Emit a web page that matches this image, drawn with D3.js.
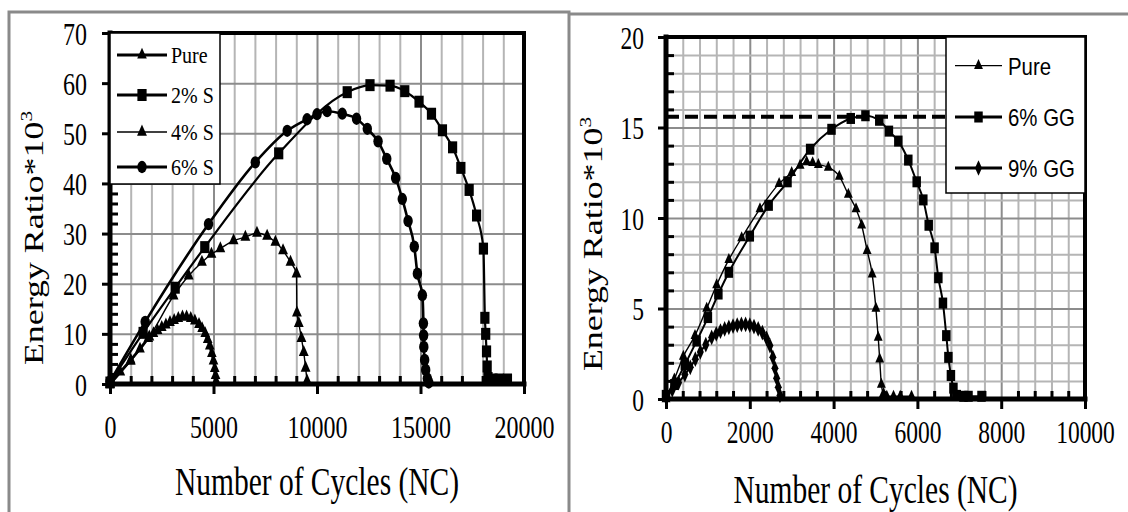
<!DOCTYPE html>
<html>
<head>
<meta charset="utf-8">
<script src="https://cdn.jsdelivr.net/npm/d3@7"></script>
<style>
  body { margin: 0; background: #fff; }
  svg { display: block; }
</style>
</head>
<body>
<script>
// ---- data ----
// left chart : cycles vs energy ratio*10^3, sand mixes
const leftPure = [[0,0],[500,2.4],[1000,4.8],[1450,7],[1850,9.1],[2100,10.1],[2300,10.7],[2500,11.3],[2700,11.8],[2900,12.3],[3100,12.7],[3300,13.1],[3500,13.4],[3700,13.4],[3900,13.1],[4100,12.6],[4300,11.9],[4450,11.1],[4600,10.1],[4720,8.9],[4820,7.6],[4920,6.1],[5000,4.6],[5060,3.1],[5100,1.7],[5130,0.5]];
const left2S = [[0,0.3],[1600,10.2],[3150,19.2],[4580,27.3],[8150,46],[11460,58.2],[12560,59.6],[13530,59.5],[14240,58.4],[14930,56.3],[15530,53.9],[16060,50.6],[16550,47.2],[16950,43.1],[17350,38.7],[17710,33.6],[18040,27.0],[18110,13.2],[18150,10],[18190,6.5],[18220,3.5],[18260,1.2],[18500,0.9],[18800,0.9],[19200,0.9]];
const left4S = [[0,0],[1000,4.6],[1900,9.4],[3070,17.6],[3800,21.6],[4440,24.3],[4900,25.9],[5330,27],[5970,28.6],[6540,29.3],[7100,30.1],[7590,29.5],[7990,28.3],[8360,26.6],[8720,24.3],[9010,22],[9030,14.2],[9120,12.1],[9250,9.1],[9360,6.3],[9450,3.2],[9520,0.6]];
const left6S = [[0,0.5],[1700,12.4],[4760,31.9],[7020,44.2],[8560,50.5],[9520,52.8],[10000,53.8],[10490,54.4],[11220,53.9],[11910,52.9],[12430,50.9],[12950,48.4],[13370,44.9],[13800,41.1],[14120,36.9],[14400,32.5],[14700,27.4],[14850,22],[15090,17.7],[15140,12.1],[15150,9.7],[15160,7.4],[15200,4.8],[15250,2.8],[15330,1.1],[15400,0.3]];

// right chart : guar gum mixes
const rightPure = [[0,0],[200,1.1],[414,2.35],[692,3.5],[971,5.0],[1209,6.3],[1500,7.7],[1806,8.9],[2243,10.5],[2700,11.9],[3000,12.5],[3200,12.9],[3357,13.1],[3500,13.05],[3636,12.95],[3874,12.8],[4137,12.3],[4352,11.3],[4535,10.5],[4670,9.6],[4800,8.2],[4920,6.9],[5010,5.0],[5065,3.4],[5100,2.2],[5140,0.8],[5190,0.3],[5270,0.15],[5430,0.15],[5590,0.15],[5860,0.15]];
const right6GG = [[0,0.2],[200,0.8],[450,1.9],[730,3.2],[1000,4.5],[1250,5.8],[1500,7.0],[2000,9.0],[2450,10.7],[2900,12.0],[3440,13.8],[3950,14.9],[4410,15.5],[4760,15.65],[5090,15.4],[5320,14.8],[5545,14.25],[5783,13.2],[5983,12.0],[6141,11.0],[6270,9.6],[6410,8.35],[6500,6.7],[6610,5.3],[6690,3.5],[6740,2.3],[6800,1.3],[6860,0.6],[6940,0.2],[7100,0.15],[7220,0.15],[7530,0.15]];
const right9GG = [[0,0.1],[150,0.5],[300,0.9],[450,1.35],[580,1.75],[700,2.2],[820,2.6],[950,3.0],[1090,3.4],[1200,3.6],[1300,3.75],[1400,3.87],[1500,3.96],[1600,4.03],[1700,4.08],[1800,4.12],[1900,4.12],[2000,4.08],[2100,4.0],[2200,3.87],[2300,3.67],[2400,3.35],[2480,2.95],[2550,2.3],[2600,1.7],[2640,1.15],[2680,0.65],[2720,0.2]];
const rightRefLine = 15.6;

// ticks and labels
const leftXTicks = [0, 5000, 10000, 15000, 20000];
const leftYTicks = [0, 10, 20, 30, 40, 50, 60, 70];
const rightXTicks = [0, 2000, 4000, 6000, 8000, 10000];
const rightYTicks = [0, 5, 10, 15, 20];
const leftNames = ["Pure", "2% S", "4% S", "6% S"];
const rightNames = ["Pure", "6% GG", "9% GG"];
const xTitle = "Number of Cycles (NC)";
const yTitle = "Energy Ratio*10";

const serif = "'Liberation Serif', 'Times New Roman', serif";
const sans = "'Liberation Sans', Arial, sans-serif";
const STRETCH = 1.3; // the scan is stretched vertically

const svg = d3.select("body").append("svg")
  .attr("width", 1128).attr("height", 512);

// outer table borders
svg.append("path").attr("d", "M9,512 V12 H569 V512 M569,14 H1128")
  .attr("fill", "none").attr("stroke", "#8a8a8a").attr("stroke-width", 3);

function panel(p) {
  const g = svg.append("g");
  const x = d3.scaleLinear().domain(p.xDomain).range([p.left, p.right]);
  const y = d3.scaleLinear().domain(p.yDomain).range([p.bottom, p.top]);
  const h = p.bottom - p.top, w = p.right - p.left;

  // grid
  g.append("g").attr("transform", `translate(0,${p.bottom})`)
    .call(d3.axisBottom(x).tickValues(p.xGrid).tickSize(-h).tickFormat(""))
    .call(a => a.select(".domain").remove())
    .selectAll("line")
    .attr("stroke", d => p.xTicks.includes(d) ? "#8c8c8c" : "#b5b5b5")
    .attr("stroke-width", 2);
  g.append("g").attr("transform", `translate(${p.left},0)`)
    .call(d3.axisLeft(y).tickValues(p.yGrid).tickSize(-w).tickFormat(""))
    .call(a => a.select(".domain").remove())
    .selectAll("line")
    .attr("stroke", d => p.yTicks.includes(d) ? "#8c8c8c" : "#b5b5b5")
    .attr("stroke-width", 2);

  if (p.ref != null) {
    g.append("line")
      .attr("x1", p.left).attr("x2", p.right)
      .attr("y1", y(p.ref)).attr("y2", y(p.ref))
      .attr("stroke", "#000").attr("stroke-width", 4)
      .attr("stroke-dasharray", "13,6");
  }

  // series
  const line = d3.line().x(d => x(d[0])).y(d => y(d[1])).curve(d3.curveMonotoneX);
  p.series.forEach(s => {
    g.append("path").datum(s.data)
      .attr("d", line).attr("fill", "none")
      .attr("stroke", "#000").attr("stroke-width", s.width);
    g.append("g").selectAll("path").data(s.data).join("path")
      .attr("d", d3.symbol().type(s.symbol).size(s.size))
      .attr("transform", d => `translate(${x(d[0])},${y(d[1])}) scale(1,${STRETCH})`)
      .attr("fill", "#000");
  });

  // minor ticks inside
  g.append("g").attr("transform", `translate(0,${p.bottom})`)
    .call(d3.axisBottom(x).tickValues(p.xMinor).tickSize(-8).tickFormat(""))
    .call(a => a.select(".domain").remove())
    .selectAll("line").attr("stroke", "#000").attr("stroke-width", 3);
  g.append("g").attr("transform", `translate(${p.left},0)`)
    .call(d3.axisLeft(y).tickValues(p.yMinor).tickSize(-8).tickFormat(""))
    .call(a => a.select(".domain").remove())
    .selectAll("line").attr("stroke", "#000").attr("stroke-width", 3);

  // major ticks + labels
  const ax = g.append("g").attr("transform", `translate(0,${p.bottom})`)
    .call(d3.axisBottom(x).tickValues(p.xTicks).tickSize(10).tickFormat(d3.format("d")));
  ax.select(".domain").remove();
  ax.selectAll("line").attr("stroke", "#000").attr("stroke-width", 3);
  ax.selectAll("text")
    .attr("y", 0).attr("dy", null)
    .attr("transform", `translate(0,${p.xLabelDy}) scale(1,${STRETCH})`)
    .attr("font-family", serif).attr("font-size", p.tickFont).attr("fill", "#000");

  const ay = g.append("g").attr("transform", `translate(${p.left},0)`)
    .call(d3.axisLeft(y).tickValues(p.yTicks).tickSize(8).tickPadding(p.yLabelGap - 8));
  ay.select(".domain").remove();
  ay.selectAll("line").attr("stroke", "#000").attr("stroke-width", 3);
  ay.selectAll("text")
    .attr("y", 0).attr("dy", null)
    .attr("transform", `translate(0,11) scale(1,${STRETCH})`)
    .attr("font-family", serif).attr("font-size", p.tickFont).attr("fill", "#000");

  // frame
  g.append("path")
    .attr("d", `M${p.left},${p.top} H${p.right} V${p.bottom}`)
    .attr("fill", "none").attr("stroke", "#000").attr("stroke-width", 4);
  g.append("path")
    .attr("d", `M${p.left},${p.top} V${p.bottom} H${p.right}`)
    .attr("fill", "none").attr("stroke", "#000").attr("stroke-width", 5)
    .attr("stroke-linecap", "square");

  // legend
  const L = p.legend;
  g.append("rect").attr("x", L.x).attr("y", L.y).attr("width", L.w).attr("height", L.h)
    .attr("fill", "#fff").attr("stroke", "#000").attr("stroke-width", 1.5);
  p.series.forEach((s, i) => {
    const ly = L.rows[i];
    g.append("line").attr("x1", L.x1).attr("x2", L.x2).attr("y1", ly).attr("y2", ly)
      .attr("stroke", "#000").attr("stroke-width", s.legendWidth);
    g.append("path").attr("d", d3.symbol().type(s.symbol).size(s.size)())
      .attr("transform", `translate(${(L.x1 + L.x2) / 2},${ly}) scale(1,${STRETCH})`);
    g.append("text").attr("transform", `translate(${L.tx},${ly + L.baseDy}) scale(${L.sx},${L.sy})`)
      .attr("font-family", L.font).attr("font-size", L.fontSize).text(s.name);
  });

  // axis titles
  g.append("text")
    .attr("transform", `translate(${(p.left + p.right) / 2},${p.xTitleY}) scale(1,1.35)`)
    .attr("text-anchor", "middle").attr("font-family", serif).attr("font-size", 29.5)
    .text(xTitle);
  const yt = g.append("text")
    .attr("transform", `translate(${p.yTitleX},${p.yTitleY}) rotate(-90) scale(1.33,1)`)
    .attr("text-anchor", "middle").attr("font-family", serif).attr("font-size", 27)
    .text(yTitle);
  yt.append("tspan").attr("dy", -11).attr("font-size", 16).text("3");
}

const evens = (from, to, step, skip) => d3.range(from, to + step / 2, step).filter(v => v % skip !== 0);

panel({
  left: 110, right: 524, top: 33, bottom: 384,
  xDomain: [0, 20000], yDomain: [0, 70],
  xTicks: leftXTicks, yTicks: leftYTicks,
  xMinor: evens(1000, 19000, 1000, 5000),
  yMinor: evens(2, 68, 2, 10),
  xGrid: d3.range(1000, 20000, 1000),
  yGrid: leftYTicks.slice(1, -1),
  xLabelDy: 54, yLabelGap: 23, tickFont: 24,
  xTitleY: 495, yTitleX: 43, yTitleY: 238,
  series: [
    { name: leftNames[0], data: leftPure, symbol: d3.symbolTriangle, size: 40, width: 2.8, legendWidth: 3 },
    { name: leftNames[1], data: left2S, symbol: d3.symbolSquare, size: 85, width: 2.2, legendWidth: 3 },
    { name: leftNames[2], data: left4S, symbol: d3.symbolTriangle, size: 42, width: 1.4, legendWidth: 1.4 },
    { name: leftNames[3], data: left6S, symbol: d3.symbolCircle, size: 70, width: 2.6, legendWidth: 3 }
  ],
  legend: { x: 110, y: 33, w: 110, h: 151, rows: [55, 95, 132, 167], x1: 117, x2: 167, tx: 171,
            baseDy: 8, font: serif, fontSize: 20, sx: 1, sy: 1.2 }
});

panel({
  left: 666, right: 1085, top: 37, bottom: 399,
  xDomain: [0, 10000], yDomain: [0, 20],
  xTicks: rightXTicks, yTicks: rightYTicks,
  xMinor: evens(400, 9600, 400, 2000),
  yMinor: evens(1, 19, 1, 5),
  xGrid: d3.range(400, 10000, 400),
  yGrid: d3.range(1, 20, 1),
  ref: rightRefLine,
  xLabelDy: 44, yLabelGap: 22, tickFont: 23.5,
  xTitleY: 503, yTitleX: 602, yTitleY: 244,
  series: [
    { name: rightNames[0], data: rightPure, symbol: d3.symbolTriangle, size: 34, width: 1.4, legendWidth: 1.2 },
    { name: rightNames[1], data: right6GG, symbol: d3.symbolSquare, size: 72, width: 2, legendWidth: 3 },
    { name: rightNames[2], data: right9GG, symbol: d3.symbolDiamond, size: 42, width: 2, legendWidth: 3 }
  ],
  legend: { x: 946, y: 37, w: 139, h: 156, rows: [65.7, 117, 168], x1: 955, x2: 1002, tx: 1008,
            baseDy: 9.3, font: sans, fontSize: 24, sx: 0.85, sy: 1 }
});
</script>
</body>
</html>
